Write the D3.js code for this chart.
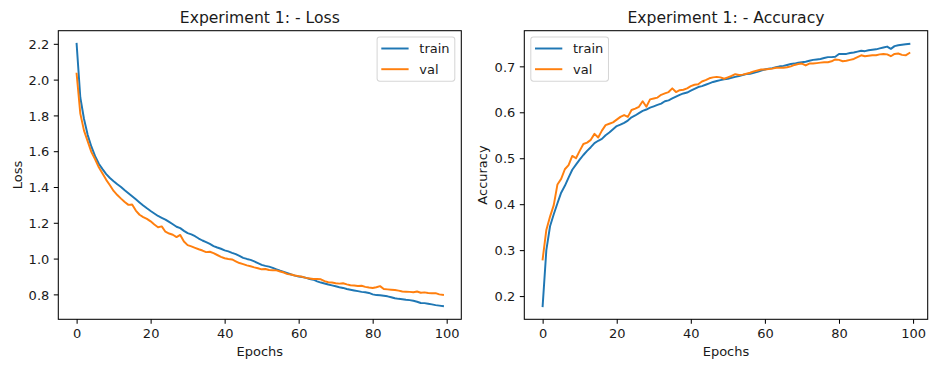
<!DOCTYPE html>
<html>
<head>
<meta charset="utf-8">
<script src="https://cdn.jsdelivr.net/npm/d3@7"></script>
<style>
  html, body { margin: 0; padding: 0; background: #fff; }
  svg { display: block; font-family: "DejaVu Sans", sans-serif; }
</style>
</head>
<body>
<svg id="chart" width="936" height="370"></svg>
<script>
const epochs = d3.range(0, 100);

const trainLoss = [
  2.200, 1.900, 1.780, 1.690, 1.625, 1.572, 1.530, 1.500, 1.472, 1.450,
  1.432, 1.415, 1.400, 1.382, 1.365, 1.348, 1.331, 1.314, 1.297, 1.281,
  1.266, 1.252, 1.238, 1.228, 1.218, 1.205, 1.192, 1.178, 1.170, 1.155,
  1.142, 1.135, 1.125, 1.112, 1.101, 1.092, 1.082, 1.070, 1.062, 1.055,
  1.046, 1.040, 1.032, 1.025, 1.015, 1.004, 0.998, 0.993, 0.984, 0.975,
  0.965, 0.959, 0.955, 0.948, 0.940, 0.932, 0.925, 0.918, 0.911, 0.905,
  0.900, 0.897, 0.892, 0.886, 0.882, 0.873, 0.866, 0.861, 0.855, 0.850,
  0.845, 0.840, 0.836, 0.830, 0.826, 0.822, 0.818, 0.814, 0.812, 0.808,
  0.800, 0.796, 0.795, 0.792, 0.789, 0.784, 0.778, 0.775, 0.773, 0.770,
  0.768, 0.764, 0.759, 0.752, 0.751, 0.748, 0.744, 0.740, 0.737, 0.734
];

const valLoss = [
  2.033, 1.810, 1.715, 1.655, 1.595, 1.555, 1.510, 1.475, 1.440, 1.410,
  1.378, 1.355, 1.335, 1.316, 1.300, 1.302, 1.268, 1.245, 1.232, 1.222,
  1.208, 1.190, 1.175, 1.180, 1.150, 1.140, 1.133, 1.120, 1.132, 1.095,
  1.075, 1.068, 1.060, 1.052, 1.045, 1.036, 1.038, 1.030, 1.020, 1.010,
  1.002, 0.998, 0.995, 0.985, 0.975, 0.969, 0.962, 0.957, 0.951, 0.946,
  0.940, 0.942, 0.936, 0.935, 0.934, 0.928, 0.922, 0.913, 0.911, 0.905,
  0.902, 0.898, 0.892, 0.889, 0.886, 0.886, 0.884, 0.874, 0.868, 0.866,
  0.862, 0.860, 0.862, 0.856, 0.851, 0.850, 0.847, 0.848, 0.842, 0.838,
  0.836, 0.840, 0.846, 0.830, 0.828, 0.826, 0.824, 0.821, 0.816, 0.815,
  0.814, 0.812, 0.816, 0.809, 0.811, 0.808, 0.806, 0.807, 0.800, 0.797
];

const trainAcc = [
  0.178, 0.300, 0.352, 0.378, 0.402, 0.425, 0.440, 0.458, 0.475, 0.486,
  0.497, 0.507, 0.516, 0.524, 0.533, 0.538, 0.542, 0.550, 0.556, 0.563,
  0.570, 0.573, 0.577, 0.582, 0.589, 0.593, 0.598, 0.603, 0.606, 0.610,
  0.613, 0.616, 0.619, 0.624, 0.626, 0.630, 0.634, 0.638, 0.641, 0.643,
  0.647, 0.651, 0.655, 0.657, 0.660, 0.663, 0.666, 0.668, 0.670, 0.672,
  0.673, 0.675, 0.677, 0.679, 0.681, 0.683, 0.684, 0.686, 0.688, 0.691,
  0.693, 0.695, 0.696, 0.698, 0.700, 0.701, 0.703, 0.705, 0.706, 0.708,
  0.709, 0.710, 0.712, 0.714, 0.715, 0.716, 0.718, 0.720, 0.720, 0.721,
  0.727, 0.727, 0.727, 0.729, 0.730, 0.732, 0.734, 0.733, 0.735, 0.736,
  0.737, 0.739, 0.741, 0.743, 0.738, 0.744, 0.746, 0.747, 0.748, 0.749
];

const valAcc = [
  0.280, 0.344, 0.373, 0.398, 0.443, 0.455, 0.476, 0.485, 0.505, 0.500,
  0.516, 0.531, 0.534, 0.540, 0.553, 0.545, 0.560, 0.572, 0.575, 0.578,
  0.584, 0.590, 0.594, 0.590, 0.605, 0.608, 0.612, 0.624, 0.612, 0.628,
  0.630, 0.632, 0.638, 0.641, 0.644, 0.652, 0.644, 0.648, 0.649, 0.652,
  0.657, 0.660, 0.661, 0.667, 0.670, 0.674, 0.676, 0.677, 0.676, 0.673,
  0.676, 0.679, 0.683, 0.681, 0.682, 0.684, 0.686, 0.689, 0.691, 0.693,
  0.693, 0.694, 0.695, 0.697, 0.697, 0.697, 0.698, 0.700, 0.703, 0.705,
  0.706, 0.702, 0.706, 0.706, 0.707, 0.708, 0.709, 0.709, 0.711, 0.715,
  0.714, 0.711, 0.712, 0.714, 0.716, 0.720, 0.724, 0.722, 0.723, 0.724,
  0.724, 0.726, 0.727, 0.726, 0.722, 0.727, 0.728, 0.725, 0.724, 0.729
];

const xTicks = [0, 20, 40, 60, 80, 100];
const lossTicks = [0.8, 1.0, 1.2, 1.4, 1.6, 1.8, 2.0, 2.2];
const accTicks = [0.2, 0.3, 0.4, 0.5, 0.6, 0.7];
const seriesNames = ["train", "val"];
const colors = ["#1f77b4", "#ff7f0e"];

const svg = d3.select("#chart");

function panel(opts) {
  const { left, right, top, bottom, title, ylabel, series, yTicks, legendLeft, ylabelX } = opts;
  const all = series.flat();
  const ymin = d3.min(all), ymax = d3.max(all);
  const pad = (ymax - ymin) * 0.05;
  const x = d3.scaleLinear().domain([-4.95, 103.95]).range([left, right]);
  const y = d3.scaleLinear().domain([ymin - pad, ymax + pad]).range([bottom, top]);

  const g = svg.append("g");

  const line = d3.line().x((d, i) => x(epochs[i])).y(d => y(d));
  series.forEach((s, k) => {
    g.append("path").datum(s)
      .attr("fill", "none")
      .attr("stroke", colors[k])
      .attr("stroke-width", 1.95)
      .attr("stroke-linejoin", "round")
      .attr("stroke-linecap", "square")
      .attr("d", line);
  });

  const xAxis = d3.axisBottom(x).tickValues(xTicks).tickFormat(d3.format("d"))
    .tickSizeInner(4.5).tickSizeOuter(0).tickPadding(4.5);
  const yAxis = d3.axisLeft(y).tickValues(yTicks).tickFormat(d3.format(".1f"))
    .tickSizeInner(4.5).tickSizeOuter(0).tickPadding(4.5);

  const gx = g.append("g").attr("transform", `translate(0,${bottom})`).call(xAxis);
  const gy = g.append("g").attr("transform", `translate(${left},0)`).call(yAxis);
  [gx, gy].forEach(a => {
    a.select(".domain").remove();
    a.selectAll(".tick line").attr("stroke", "#000").attr("stroke-width", 1.04);
    a.selectAll(".tick text").attr("fill", "#1a1a1a")
      .style("font-family", "DejaVu Sans").style("font-size", "13px");
  });
  gx.selectAll(".tick text").attr("dy", null).attr("y", 19.2);
  gy.selectAll(".tick text").attr("dy", "0.36em");

  g.append("rect").attr("x", left).attr("y", top)
    .attr("width", right - left).attr("height", bottom - top)
    .attr("fill", "none").attr("stroke", "#000").attr("stroke-width", 1.04);

  g.append("text").attr("x", (left + right) / 2).attr("y", 23.3)
    .attr("text-anchor", "middle").style("font-size", "15.6px").attr("fill", "#1a1a1a")
    .text(title);
  g.append("text").attr("x", (left + right) / 2).attr("y", 356.3)
    .attr("text-anchor", "middle").style("font-size", "13px").attr("fill", "#1a1a1a")
    .text("Epochs");
  g.append("text").attr("transform", `translate(${ylabelX},${(top + bottom) / 2}) rotate(-90)`)
    .attr("text-anchor", "middle").style("font-size", "13px").attr("fill", "#1a1a1a")
    .text(ylabel);

  const lgTop = top + 6.3, lgW = 77.7, lgH = 44.2;
  const lg = g.append("g").attr("transform", `translate(${legendLeft},${lgTop})`);
  lg.append("rect").attr("x", 0).attr("y", 0).attr("width", lgW).attr("height", lgH)
    .attr("rx", 2.6).attr("ry", 2.6)
    .attr("fill", "#fff").attr("fill-opacity", 0.8)
    .attr("stroke", "#d6d6d6").attr("stroke-width", 1.04);
  seriesNames.forEach((name, k) => {
    const cy = 11.5 + k * 20.7;
    lg.append("line").attr("x1", 4.2).attr("x2", 31.5).attr("y1", cy).attr("y2", cy)
      .attr("stroke", colors[k]).attr("stroke-width", 1.95);
    lg.append("text").attr("x", 42.2).attr("y", cy + 4.5)
      .style("font-size", "13px").attr("fill", "#1a1a1a").text(name);
  });
}

panel({
  left: 58.3, right: 461.3, top: 30.7, bottom: 319.3,
  title: "Experiment 1: - Loss", ylabel: "Loss",
  series: [trainLoss, valLoss], yTicks: lossTicks,
  legendLeft: 461.3 - 6.5 - 77.7, ylabelX: 21.5
});
panel({
  left: 524.3, right: 927.7, top: 30.7, bottom: 319.3,
  title: "Experiment 1: - Accuracy", ylabel: "Accuracy",
  series: [trainAcc, valAcc], yTicks: accTicks,
  legendLeft: 524.3 + 6.5, ylabelX: 486.5
});
</script>
</body>
</html>
